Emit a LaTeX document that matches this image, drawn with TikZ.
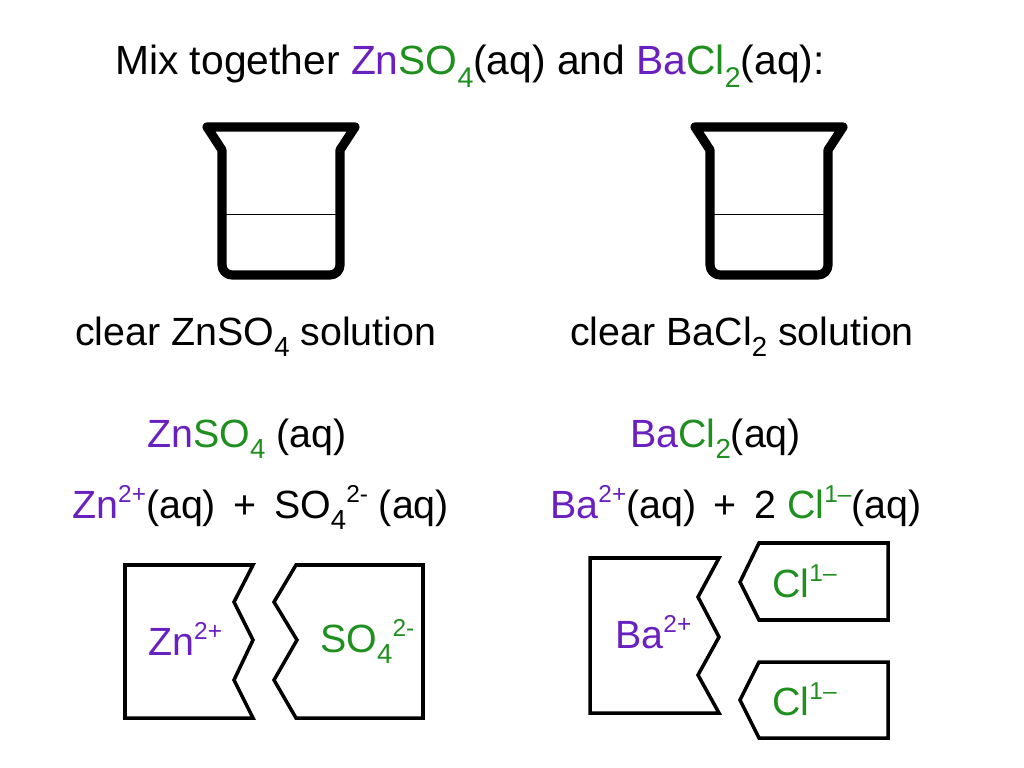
\documentclass[tikz,border=0pt]{standalone}
\usepackage{fontspec}
\setmainfont{Liberation Sans}
\usepackage{xcolor}
\usetikzlibrary{positioning}
\definecolor{ionpurple}{HTML}{6A1FC0}
\definecolor{iongreen}{HTML}{1F8F1F}
\newcommand{\lowsub}[1]{\raisebox{-0.3em}{\scalebox{0.7}{#1}}}
\newcommand{\highsup}[1]{\raisebox{0.4em}{\scalebox{0.62}{#1}}}
\newcommand{\pu}[1]{\textcolor{ionpurple}{#1}}
\newcommand{\gr}[1]{\textcolor{iongreen}{#1}}
\tikzset{
    beaker/.style={line width=6.5pt, line join=round},
    level/.style={thin},
    piece/.style={line width=2.5pt, line join=miter},
    big/.style={anchor=base west, inner sep=0pt, font=\fontsize{29}{32}\selectfont},
    txt/.style={anchor=base west, inner sep=0pt, font=\fontsize{28}{30}\selectfont}
}
\begin{document}
\begin{tikzpicture}[x=0.025cm, y=-0.025cm]
    \useasboundingbox (0,0) rectangle (1024,768);
    % Title
    \node[big] (title) at (115,75) {Mix together \pu{Zn}\gr{SO\lowsub{4}}(aq) and \pu{Ba}\gr{Cl\lowsub{2}}(aq):};
    % Beakers
    \foreach \dx/\nm in {0/zn, 488/ba} {
        \begin{scope}[xshift=\dx*0.025cm]
            \draw[beaker] (207,127) -- (355,127) -- (340,150) -- (340,265)
                to[out=-90,in=0] (330,275) -- (232,275) to[out=180,in=-90] (222,265)
                -- (222,150) -- cycle;
            \draw[level] (226,214) -- (338,214);
        \end{scope}
    }
    % Labels under beakers
    \node[txt] (clearzn) at (75,345) {clear ZnSO\lowsub{4} solution};
    \node[txt] (clearba) at (570,345) {clear BaCl\lowsub{2} solution};
    \node[txt] (znso) at (147,447) {\pu{Zn}\gr{SO\lowsub{4}} (aq)};
    \node[txt] (bacl) at (630,447) {\pu{Ba}\gr{Cl\lowsub{2}}(aq)};
    \node[txt] (znions) at (72,518) {\pu{Zn\highsup{2+}}(aq)\, + \,SO\lowsub{4}\highsup{2-} (aq)};
    \node[txt] (baions) at (550,518) {\pu{Ba\highsup{2+}}(aq)\, + \,2 \gr{Cl\highsup{1\textendash}}(aq)};
    % Puzzle pieces
    \draw[piece] (125,565) -- (253,565) -- (234,602) -- (253,640) -- (234,680) -- (253,718) -- (125,718) -- cycle;
    \draw[piece] (296,565) -- (423,565) -- (423,718) -- (296,718) -- (274,680) -- (297,640) -- (274,602) -- cycle;
    \draw[piece] (590,558) -- (719,558) -- (698,597) -- (719,637) -- (698,675) -- (719,713) -- (590,713) -- cycle;
    \draw[piece] (759,543) -- (888,543) -- (888,620) -- (759,620) -- (740,582) -- cycle;
    \draw[piece] (759,662) -- (888,662) -- (888,738) -- (759,738) -- (740,700) -- cycle;
    \node[txt] (zn) at (148,655) {\pu{Zn\highsup{2+}}};
    \node[txt] (so) at (320,652) {\gr{SO\lowsub{4}\highsup{2-}}};
    \node[txt] (ba) at (615,648) {\pu{Ba\highsup{2+}}};
    \node[txt] (clone) at (772,597) {\gr{Cl\highsup{1\textendash}}};
    \node[txt] (cltwo) at (772,715) {\gr{Cl\highsup{1\textendash}}};
\end{tikzpicture}
\end{document}
